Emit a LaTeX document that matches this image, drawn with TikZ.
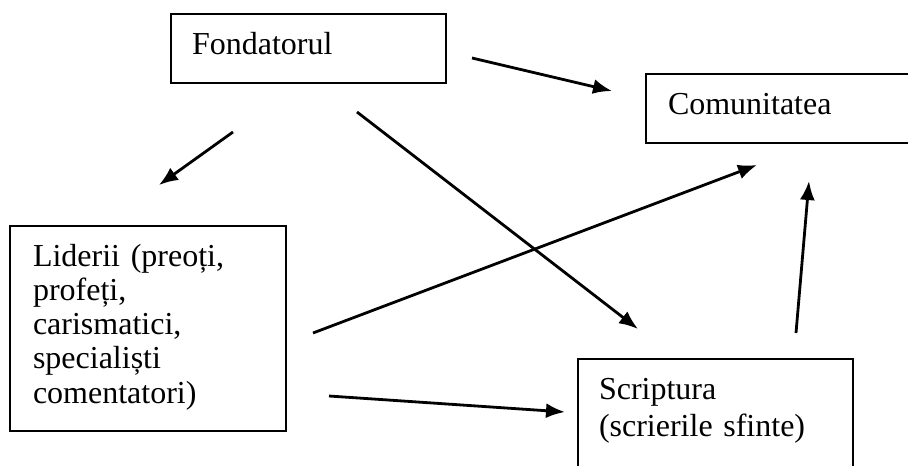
\documentclass[tikz,border=0pt]{standalone}
\usepackage{fontspec}
\setmainfont{Liberation Serif}
\usetikzlibrary{arrows.meta}

\tikzset{
  box/.style={draw, line width=2pt, anchor=north west, inner ysep=0pt,
    align=left, text height=40pt, font=\fontsize{32}{34.3}\selectfont},
  link/.style={line width=2.8pt, -{Latex[length=19pt,width=15pt]}}
}

\begin{document}
\begin{tikzpicture}[x=1pt,y=-1pt]

    % Page frame (the right and bottom boxes run off the page)
    \clip (0,0) rectangle (908,466);

    % Draw the four boxes
    \node[box, inner xsep=21pt, text width=233pt, text depth=29pt] (fond) at (170,13) {Fondatorul};
    \node[box, inner xsep=22pt, text width=256pt, text depth=29pt] (com) at (645,73) {Comunitatea};
    \node[box, inner xsep=23pt, text width=230pt, text depth=165pt] (lid) at (9,225)
        {Liderii (preoți,\\ profeți,\\ carismatici,\\ specialiști\\ comentatori)};
    \node[box, inner xsep=21pt, text width=233pt, text depth=110pt,
        font=\fontsize{32}{37.7}\selectfont] (scr) at (577,358)
        {Scriptura\\ (scrierile sfinte)};

    % Free ends of the arrows
    \coordinate (fond-com) at (472,58);
    \coordinate (com-in1) at (612,91);
    \coordinate (fond-lid) at (233,132);
    \coordinate (lid-in) at (159,185);
    \coordinate (fond-scr) at (357,112);
    \coordinate (scr-in1) at (638,329);
    \coordinate (lid-com) at (313,333);
    \coordinate (com-in2) at (757,165);
    \coordinate (lid-scr) at (329,396);
    \coordinate (scr-in2) at (565,412);
    \coordinate (scr-com) at (796,333);
    \coordinate (com-in3) at (809,181);

    % Arrows between the boxes
    \draw[link] (fond-com) -- (com-in1);
    \draw[link] (fond-lid) -- (lid-in);
    \draw[link] (fond-scr) -- (scr-in1);
    \draw[link] (lid-com) -- (com-in2);
    \draw[link] (lid-scr) -- (scr-in2);
    \draw[link] (scr-com) -- (com-in3);

\end{tikzpicture}
\end{document}
